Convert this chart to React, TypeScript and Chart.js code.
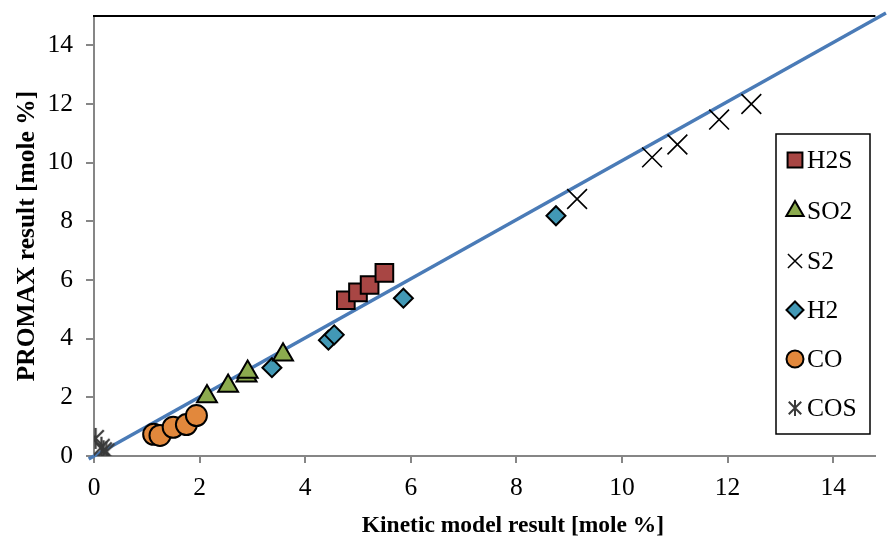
import React, { useEffect, useRef } from 'react';
import { Chart, registerables } from 'chart.js';

Chart.register(...registerables);

// ---------- data ----------
const SERIES_NAMES = ['H2S', 'SO2', 'S2', 'H2', 'CO', 'COS'];

const H2S_X = [4.77, 5.0, 5.22, 5.5];
const H2S_Y = [5.31, 5.58, 5.83, 6.24];

const SO2_X = [2.14, 2.54, 2.89, 2.91, 3.58];
const SO2_Y = [2.03, 2.39, 2.74, 2.86, 3.45];

const S2_X = [9.15, 10.57, 11.05, 11.84, 12.45];
const S2_Y = [8.76, 10.18, 10.62, 11.47, 12.0];

const H2_X = [3.37, 4.44, 4.55, 5.86, 8.75];
const H2_Y = [3.01, 3.95, 4.13, 5.38, 8.19];

const CO_X = [1.13, 1.25, 1.5, 1.75, 1.94];
const CO_Y = [0.74, 0.7, 0.98, 1.07, 1.38];

const COS_X = [0.03, 0.14, 0.18, 0.23];
const COS_Y = [0.6, 0.3, 0.18, 0.14];

const FIT_X = [-0.1, 15];
const FIT_Y = [-0.1, 15.1];

const X_TICKS = [0, 2, 4, 6, 8, 10, 12, 14];
const Y_TICKS = [0, 2, 4, 6, 8, 10, 12, 14];

const X_TITLE = 'Kinetic model result [mole %]';
const Y_TITLE = 'PROMAX result [mole %]';

// ---------- styles ----------
const SERIF = "'Liberation Serif', 'Times New Roman', serif";
const AXIS_GRAY = '#868686';
const C_H2S = '#A84644';
const C_SO2 = '#8CAB4E';
const C_H2 = '#4298B5';
const C_CO = '#E2883C';
const C_COS = '#3A3A3A';
const C_LINE = '#4A7BB7';

const pts = (xs: number[], ys: number[]) => xs.map((x, i) => ({ x, y: ys[i] }));

function makeStar(size: number, color: string, lw: number) {
  const c = document.createElement('canvas');
  c.width = size;
  c.height = size;
  const g = c.getContext('2d')!;
  const h = size / 2;
  const r = h - 1;
  const d = r * 0.78;
  g.strokeStyle = color;
  g.lineWidth = lw;
  g.beginPath();
  g.moveTo(h - d, h - d);
  g.lineTo(h + d, h + d);
  g.moveTo(h + d, h - d);
  g.lineTo(h - d, h + d);
  g.moveTo(h, h - r);
  g.lineTo(h, h + r);
  g.stroke();
  return c;
}

function drawMarker(ctx: CanvasRenderingContext2D, kind: string, x: number, y: number, r: number, fill: string) {
  ctx.save();
  ctx.lineWidth = 2;
  ctx.strokeStyle = '#000';
  ctx.fillStyle = fill;
  ctx.beginPath();
  if (kind === 'rect') {
    const s = r * Math.SQRT1_2;
    ctx.rect(x - s, y - s, 2 * s, 2 * s);
    ctx.fill();
    ctx.stroke();
  } else if (kind === 'triangle') {
    for (let i = 0; i < 3; i++) {
      const a = (i * 2 * Math.PI) / 3;
      const px = x + Math.sin(a) * r;
      const py = y - Math.cos(a) * r;
      if (i === 0) ctx.moveTo(px, py);
      else ctx.lineTo(px, py);
    }
    ctx.closePath();
    ctx.fill();
    ctx.stroke();
  } else if (kind === 'crossRot') {
    const d = r * Math.SQRT1_2;
    ctx.lineWidth = 1.5;
    ctx.moveTo(x - d, y - d);
    ctx.lineTo(x + d, y + d);
    ctx.moveTo(x + d, y - d);
    ctx.lineTo(x - d, y + d);
    ctx.stroke();
  } else if (kind === 'rectRot') {
    ctx.moveTo(x - r, y);
    ctx.lineTo(x, y - r);
    ctx.lineTo(x + r, y);
    ctx.lineTo(x, y + r);
    ctx.closePath();
    ctx.fill();
    ctx.stroke();
  } else if (kind === 'circle') {
    ctx.arc(x, y, r, 0, Math.PI * 2);
    ctx.fill();
    ctx.stroke();
  } else if (kind === 'star') {
    const d = r * 0.78;
    ctx.strokeStyle = fill;
    ctx.lineWidth = 2;
    ctx.moveTo(x - d, y - d);
    ctx.lineTo(x + d, y + d);
    ctx.moveTo(x + d, y - d);
    ctx.lineTo(x - d, y + d);
    ctx.moveTo(x, y - r);
    ctx.lineTo(x, y + r);
    ctx.stroke();
  }
  ctx.restore();
}

const LEGEND_KINDS = ['rect', 'triangle', 'crossRot', 'rectRot', 'circle', 'star'];
const LEGEND_FILLS = [C_H2S, C_SO2, '#000', C_H2, C_CO, C_COS];
const LEGEND_R = [10.5, 10, 10, 8.5, 8.5, 8];

const overlayPlugin = {
  id: 'overlay',
  afterDraw(chart: any) {
    const ctx: CanvasRenderingContext2D = chart.ctx;
    const a = chart.chartArea;
    ctx.save();
    // top border of plot area
    ctx.strokeStyle = '#000';
    ctx.lineWidth = 2;
    ctx.beginPath();
    ctx.moveTo(a.left - 1, a.top);
    ctx.lineTo(a.right, a.top);
    ctx.stroke();

    // axis titles
    ctx.fillStyle = '#000';
    ctx.textAlign = 'center';
    ctx.textBaseline = 'alphabetic';
    ctx.font = `bold 23.5px ${SERIF}`;
    ctx.fillText(X_TITLE, 513, 532);
    ctx.save();
    ctx.translate(34, (a.top + a.bottom) / 2);
    ctx.rotate(-Math.PI / 2);
    ctx.font = `bold 25.5px ${SERIF}`;
    ctx.fillText(Y_TITLE, 0, 0);
    ctx.restore();

    // legend
    const bx = 776, by = 134, bw = 94, bh = 300;
    ctx.fillStyle = '#fff';
    ctx.fillRect(bx, by, bw, bh);
    ctx.strokeStyle = '#000';
    ctx.lineWidth = 1.5;
    ctx.strokeRect(bx, by, bw, bh);
    const rows = [160, 211, 261, 310, 359, 408];
    ctx.font = `25.5px ${SERIF}`;
    ctx.textAlign = 'left';
    ctx.textBaseline = 'middle';
    SERIES_NAMES.forEach((name, i) => {
      drawMarker(ctx, LEGEND_KINDS[i], 795, rows[i], LEGEND_R[i], LEGEND_FILLS[i]);
      ctx.fillStyle = '#000';
      ctx.fillText(name, 807, rows[i] + 1);
    });
    ctx.restore();
  },
};

export default function App() {
  const ref = useRef<HTMLCanvasElement | null>(null);

  useEffect(() => {
    const canvas = ref.current!;
    const star = makeStar(23, C_COS, 2.2);
    const chart = new Chart(canvas, {
      type: 'scatter',
      data: {
        datasets: [
          {
            label: SERIES_NAMES[0],
            data: pts(H2S_X, H2S_Y),
            pointStyle: 'rect',
            pointRadius: 12.5,
            backgroundColor: C_H2S,
            borderColor: '#000',
            borderWidth: 2,
          },
          {
            label: SERIES_NAMES[1],
            data: pts(SO2_X, SO2_Y),
            pointStyle: 'triangle',
            pointRadius: 11.5,
            backgroundColor: C_SO2,
            borderColor: '#000',
            borderWidth: 2,
          },
          {
            label: SERIES_NAMES[2],
            data: pts(S2_X, S2_Y),
            pointStyle: 'crossRot',
            pointRadius: 14,
            backgroundColor: '#000',
            borderColor: '#000',
            borderWidth: 1.6,
          },
          {
            label: SERIES_NAMES[3],
            data: pts(H2_X, H2_Y),
            pointStyle: 'rectRot',
            pointRadius: 9.5,
            backgroundColor: C_H2,
            borderColor: '#000',
            borderWidth: 2,
          },
          {
            label: SERIES_NAMES[4],
            data: pts(CO_X, CO_Y),
            pointStyle: 'circle',
            pointRadius: 10.5,
            backgroundColor: C_CO,
            borderColor: '#000',
            borderWidth: 2,
          },
          {
            label: SERIES_NAMES[5],
            data: pts(COS_X, COS_Y),
            pointStyle: star as any,
            pointRadius: 10,
            backgroundColor: C_COS,
            borderColor: C_COS,
            borderWidth: 1.5,
          },
          {
            label: 'fit',
            data: pts(FIT_X, FIT_Y),
            showLine: true,
            pointRadius: 0,
            borderColor: C_LINE,
            borderWidth: 3.5,
            clip: false as any,
          } as any,
        ],
      },
      options: {
        animation: false,
        responsive: false,
        events: [],
        layout: { padding: { top: 16, left: 0, right: 0, bottom: 0 } },
        plugins: {
          legend: { display: false },
          tooltip: { enabled: false },
        },
        scales: {
          x: {
            type: 'linear',
            min: 0,
            max: 14.8,
            afterBuildTicks: (s: any) => {
              s.ticks = X_TICKS.map((v) => ({ value: v }));
            },
            afterFit: (s: any) => {
              s.height = 83;
              s.paddingLeft = 0;
              s.paddingRight = 0;
            },
            ticks: {
              includeBounds: false,
              color: '#000',
              font: { family: SERIF, size: 25.5 },
              padding: 10,
              maxRotation: 0,
            },
            grid: {
              drawOnChartArea: false,
              drawTicks: true,
              tickLength: 7,
              color: AXIS_GRAY,
              lineWidth: 2,
            },
            border: { display: true, color: AXIS_GRAY, width: 2 },
          },
          y: {
            type: 'linear',
            min: 0,
            max: 15,
            afterBuildTicks: (s: any) => {
              s.ticks = Y_TICKS.map((v) => ({ value: v }));
            },
            afterFit: (s: any) => {
              s.width = 94;
              s.paddingTop = 0;
              s.paddingBottom = 0;
            },
            ticks: {
              includeBounds: false,
              color: '#000',
              font: { family: SERIF, size: 25.5 },
              padding: 13,
            },
            grid: {
              drawOnChartArea: false,
              drawTicks: true,
              tickLength: 8,
              color: AXIS_GRAY,
              lineWidth: 2,
            },
            border: { display: true, color: AXIS_GRAY, width: 2 },
          },
        },
      },
      plugins: [overlayPlugin],
    });
    return () => chart.destroy();
  }, []);

  return (
    <div style={{ position: 'absolute', left: 0, top: 0, width: 891, height: 539, background: '#fff' }}>
      <canvas ref={ref} width={891} height={539} style={{ display: 'block' }} />
    </div>
  );
}
